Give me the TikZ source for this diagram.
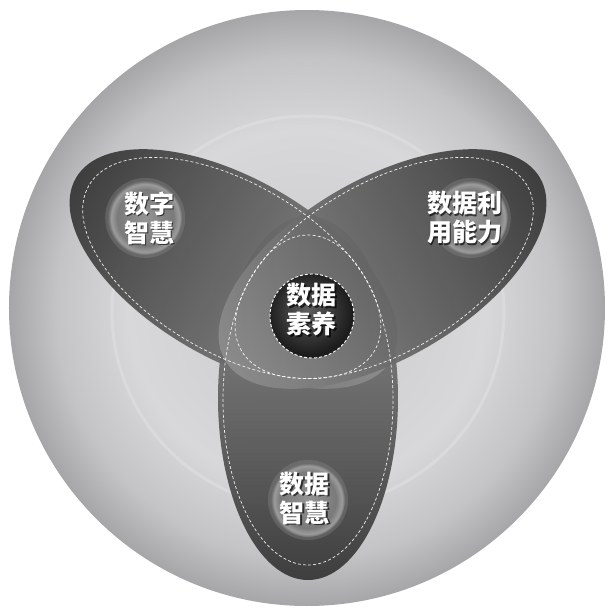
\documentclass[tikz,border=0pt]{standalone}
\usepackage{fontspec}
\newfontfamily\cjk{Noto Sans CJK SC}
\definecolor{bgA}{HTML}{CACACC}
\definecolor{bgB}{HTML}{D8D8DA}
\definecolor{bgC}{HTML}{D1D1D3}
\definecolor{bgD}{HTML}{C4C4C6}
\definecolor{bgE}{HTML}{A6A6A8}
\definecolor{petalIn}{HTML}{8E8E8E}
\definecolor{petalMid}{HTML}{6E6E6E}
\definecolor{petalOut}{HTML}{343434}
\definecolor{lbA}{HTML}{959595}
\definecolor{lbB}{HTML}{7A7A7A}
\definecolor{lbC}{HTML}{9C9C9C}
\definecolor{lbD}{HTML}{6A6A6A}
\definecolor{ctA}{HTML}{606060}
\definecolor{ctB}{HTML}{1C1C1C}
\pgfdeclareradialshading{bgshade}{\pgfpoint{0bp}{0bp}}{color(0bp)=(bgA); color(15bp)=(bgB); color(17bp)=(bgC); color(21bp)=(bgD); color(25bp)=(bgE); color(50bp)=(bgE)}
\pgfdeclareradialshading{lblshade}{\pgfpoint{0bp}{0bp}}{color(0bp)=(lbA); color(19bp)=(lbB); color(23bp)=(lbC); color(25bp)=(lbD); color(50bp)=(lbD)}
\pgfdeclareradialshading{ctrshade}{\pgfpoint{-3bp}{4bp}}{color(0bp)=(ctA); color(25bp)=(ctB); color(50bp)=(ctB)}
\begin{document}
\begin{tikzpicture}[x=1pt,y=1pt,
  petalfill/.style={left color=petalIn, middle color=petalMid, right color=petalOut, fill opacity=0.92},
  petalline/.style={draw=white, dash pattern=on 3pt off 2.2pt, line width=0.7pt, opacity=0.9},
  lblcircle/.style={circle, minimum size=74pt, inner sep=0pt, shading=lblshade},
  corecircle/.style={circle, minimum size=84pt, inner sep=0pt, shading=ctrshade, draw=white, dash pattern=on 3pt off 2pt, line width=0.9pt},
  lbl/.style={text=white, font=\cjk\bfseries\fontsize{25}{29}\selectfont, align=center, inner sep=0pt},
  lblshadow/.style={lbl, text=black, text opacity=0.65}]
\useasboundingbox (-308,-302) rectangle (304,312);
\fill[white] (-308,-302) rectangle (304,312);
% background disc
\shade[shading=bgshade] (-1,4) circle (298);
\draw[white, opacity=0.18, line width=3pt] (0,0) circle (196);
% petals
\foreach \ang in {270,150,30}{
  \begin{scope}[transform canvas={rotate=\ang}]
    \shade[petalfill] (86,0) ellipse (182 and 90);
  \end{scope}}
% dashed outlines
\foreach \ang in {270,150,30}{
  \begin{scope}[transform canvas={rotate=\ang}]
    \draw[petalline] (88,0) ellipse (165 and 85);
  \end{scope}}
% label discs
\fill[black!45, opacity=0.35] (150:188) circle (40);
\fill[black!45, opacity=0.35] (30:188) circle (40);
\fill[black!45, opacity=0.35] (270:188) circle (40);
\node[lblcircle] (c1) at (150:188) {};
\node[lblcircle] (c2) at (30:188) {};
\node[lblcircle] (c3) at (270:188) {};
\node[corecircle] (core) at (4,-4) {};
% texts (shadow + text)
\node[lblshadow] (t1s) at (-157.3,92.5) {数字\\智慧};
\node[lbl] (t1) at (-158.8,94) {数字\\智慧};
\node[lblshadow] (t2s) at (158.3,92.5) {数据利\\用能力};
\node[lbl] (t2) at (156.8,94) {数据利\\用能力};
\node[lblshadow] (t3s) at (-1.5,-187.5) {数据\\智慧};
\node[lbl] (t3) at (-3,-186) {数据\\智慧};
\node[lblshadow] (t4s) at (5.5,0.5) {数据\\素养};
\node[lbl] (t4) at (4,2) {数据\\素养};
\end{tikzpicture}
\end{document}
